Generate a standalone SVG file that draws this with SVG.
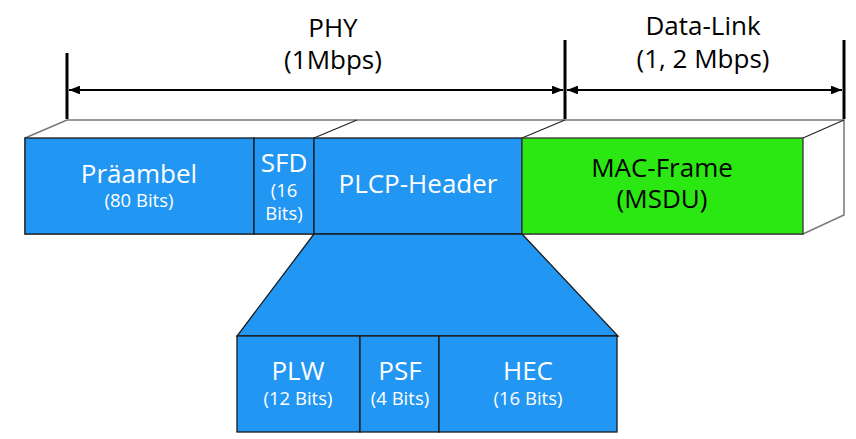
<svg xmlns="http://www.w3.org/2000/svg" width="856" height="439" viewBox="0 0 856 439">
<style>
text{font-family:"Open Sans","Liberation Sans",sans-serif;text-anchor:middle}
.w{fill:#fff}
.k{fill:#000}
.big{font-size:26px}
.sm{font-size:18.5px}
.blue{fill:#2196F3;stroke:#1a1a1a;stroke-width:1.3}
.green{fill:#2BE812;stroke:#333;stroke-width:1.3}
.edge{fill:none;stroke:#222;stroke-width:1.2}
.gray{fill:#fff;stroke:#777;stroke-width:1.5}
.bar{stroke:#000;stroke-width:3}
.arr{stroke:#000;stroke-width:2.2}
</style>
<defs>
<marker id="ah" viewBox="0 0 10 8" refX="10" refY="4" markerWidth="5" markerHeight="4" orient="auto-start-reverse" markerUnits="strokeWidth">
<path d="M0,0 L10,4 L0,8 Z" fill="#000"/>
</marker>
</defs>
<g id="frame3d">
<polygon class="gray" points="25,138 67,120 844,120 844,215 803,234 25,234"/>
<line class="edge" x1="314" y1="138" x2="357" y2="120"/>
<line class="edge" x1="522" y1="138" x2="565" y2="120"/>
<line class="edge" x1="803" y1="138" x2="844" y2="120"/>
</g>
<g id="praeambel">
<rect class="blue" x="25" y="138" width="229" height="96"/>
<text class="w big" x="139" y="183">Präambel</text>
<text class="w sm" x="139" y="207">(80 Bits)</text>
</g>
<g id="sfd">
<rect class="blue" x="254" y="138" width="60" height="96"/>
<text class="w big" x="284" y="172">SFD</text>
<text class="w sm" x="284" y="197">(16</text>
<text class="w sm" x="284" y="220">Bits)</text>
</g>
<g id="plcp">
<rect class="blue" x="314" y="138" width="208" height="96"/>
<text class="w big" x="418" y="193">PLCP-Header</text>
</g>
<g id="mac">
<rect class="green" x="522" y="138" width="281" height="96"/>
<text class="k big" x="662" y="177">MAC-Frame</text>
<text class="k big" x="662" y="208">(MSDU)</text>
</g>
<g id="expand">
<polygon class="blue" points="314,234 522,234 618,336 237,336"/>
</g>
<g id="plw">
<rect class="blue" x="237" y="336" width="123" height="96"/>
<text class="w big" x="298" y="380">PLW</text>
<text class="w sm" x="298" y="405">(12 Bits)</text>
</g>
<g id="psf">
<rect class="blue" x="360" y="336" width="79" height="96"/>
<text class="w big" x="400" y="380">PSF</text>
<text class="w sm" x="400" y="405">(4 Bits)</text>
</g>
<g id="hec">
<rect class="blue" x="439" y="336" width="178" height="96"/>
<text class="w big" x="528" y="380">HEC</text>
<text class="w sm" x="528" y="405">(16 Bits)</text>
</g>
<g id="connectors">
<line class="bar" x1="67" y1="53" x2="67" y2="119"/>
<line class="bar" x1="565" y1="40" x2="565" y2="119"/>
<line class="bar" x1="844" y1="40" x2="844" y2="119"/>
<line class="arr" x1="69" y1="90" x2="563" y2="90" marker-start="url(#ah)" marker-end="url(#ah)"/>
<line class="arr" x1="567" y1="90" x2="842" y2="90" marker-start="url(#ah)" marker-end="url(#ah)"/>
</g>
<g id="labels">
<text class="k big" x="333" y="37">PHY</text>
<text class="k big" x="333" y="69">(1Mbps)</text>
<text class="k big" x="703" y="35">Data-Link</text>
<text class="k big" x="703" y="68">(1, 2 Mbps)</text>
</g>
</svg>
